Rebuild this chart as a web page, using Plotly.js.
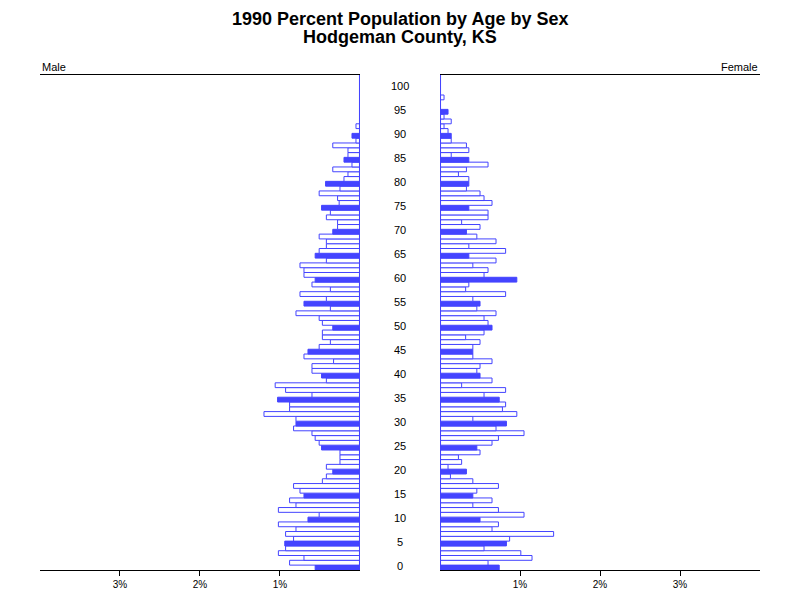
<!DOCTYPE html>
<html><head><meta charset="utf-8">
<script src="https://cdn.plot.ly/plotly-3.0.1.min.js"></script>
<style>body{margin:0;background:#fff}#chart{width:800px;height:600px}</style>
</head><body><div id="chart"></div>
<script>
const ages = Array.from({length:101}, (_, i) => i);
const male = [
0.56,0.88,0.70,1.02,0.93,0.94,0.83,0.93,0.80,1.02,
0.65,0.51,1.02,0.80,0.88,0.70,0.75,0.83,0.47,0.42,
0.34,0.42,0.25,0.25,0.25,0.48,0.51,0.56,0.60,0.83,
0.80,0.80,1.20,0.88,0.88,1.03,0.60,0.93,1.06,0.42,
0.48,0.60,0.60,0.33,0.70,0.65,0.51,0.37,0.47,0.47,
0.34,0.47,0.51,0.80,0.37,0.70,0.42,0.75,0.37,0.60,
0.56,0.70,0.70,0.75,0.42,0.56,0.51,0.42,0.42,0.51,
0.34,0.28,0.28,0.42,0.37,0.48,0.26,0.28,0.51,0.25,
0.43,0.20,0.15,0.34,0.10,0.20,0.15,0.15,0.34,0.05,
0.10,0,0.05,0,0,0,0,0,0,0,0];
const female = [
0.74,0.60,1.15,1.01,0.55,0.83,0.87,1.42,0.65,0.73,
0.50,1.05,0.73,0.41,0.65,0.41,0.46,0.73,0.41,0.13,
0.33,0.10,0.27,0.23,0.50,0.46,0.65,0.73,1.05,0.70,
0.83,0.41,0.96,0.78,0.82,0.74,0.55,0.82,0.27,0.65,
0.50,0.46,0.50,0.65,0.41,0.41,0.41,0.50,0.32,0.55,
0.65,0.60,0.55,0.70,0.46,0.50,0.41,0.82,0.32,0.36,
0.96,0.55,0.60,0.41,0.70,0.36,0.82,0.36,0.70,0.46,
0.33,0.50,0.27,0.60,0.60,0.36,0.65,0.55,0.50,0.33,
0.36,0.36,0.23,0.33,0.60,0.36,0.14,0.36,0.33,0.14,
0.14,0.10,0.05,0.14,0.05,0.10,0,0,0.05,0,0];
const ageLabels = [0,5,10,15,20,25,30,35,40,45,50,55,60,65,70,75,80,85,90,95,100];
const tickVals = [1,2,3];
const tickText = ['1%','2%','3%'];
const titleLines = ['1990 Percent Population by Age by Sex', 'Hodgeman County, KS'];

const BLUE = 'rgb(68,68,255)';
const fills = ages.map(a => a % 5 === 0 ? BLUE : 'white');
const FONT = 'Liberation Sans, Arial, sans-serif';

const traces = [
  {type:'bar', orientation:'h', x:male, y:ages, xaxis:'x', yaxis:'y', width:1,
   marker:{color:fills, line:{color:BLUE, width:1}}, hoverinfo:'x+y'},
  {type:'bar', orientation:'h', x:female, y:ages, xaxis:'x2', yaxis:'y2', width:1,
   marker:{color:fills, line:{color:BLUE, width:1}}, hoverinfo:'x+y'}
];

const axisCommon = {range:[0,4], tickvals:tickVals, ticktext:tickText, ticks:'outside', ticklen:5,
  tickcolor:'black', showline:true, linecolor:'black', linewidth:1, mirror:true,
  showgrid:false, zeroline:false, tickfont:{family:FONT, size:10, color:'black'}, fixedrange:true};
const yCommon = {range:[-0.52,102.67], showticklabels:false, ticks:'', showgrid:false, zeroline:false,
  showline:false, fixedrange:true};

const annotations = ageLabels.map(a => ({xref:'paper', yref:'y', x:0.5, y:a, yshift:2, text:String(a),
  showarrow:false, xanchor:'center', yanchor:'middle', font:{family:FONT, size:11, color:'black'}}));
annotations.push({xref:'paper', yref:'paper', x:0, y:1, xanchor:'left', yanchor:'bottom', yshift:0,
  text:'Male', showarrow:false, font:{family:FONT, size:11, color:'black'}});
annotations.push({xref:'paper', yref:'paper', x:1, y:1, xanchor:'right', yanchor:'bottom', yshift:0,
  text:'Female', showarrow:false, font:{family:FONT, size:11, color:'black'}});
annotations.push({xref:'paper', yref:'paper', x:0.5, y:1, xanchor:'center', yanchor:'middle', yshift:56,
  text:'<b>' + titleLines[0] + '</b>', showarrow:false, font:{family:FONT, size:18, color:'black'}});
annotations.push({xref:'paper', yref:'paper', x:0.5, y:1, xanchor:'center', yanchor:'middle', yshift:38,
  text:'<b>' + titleLines[1] + '</b>', showarrow:false, font:{family:FONT, size:18, color:'black'}});

const layout = {
  width:800, height:600, paper_bgcolor:'white', plot_bgcolor:'white',
  margin:{l:40, r:40, t:75, b:30},
  showlegend:false, bargap:0,
  xaxis:Object.assign({}, axisCommon, {domain:[0,0.4444], range:[4,0]}),
  xaxis2:Object.assign({}, axisCommon, {domain:[0.5556,1], range:[0,4]}),
  yaxis:Object.assign({}, yCommon, {anchor:'x'}),
  yaxis2:Object.assign({}, yCommon, {anchor:'x2'}),
  shapes:[
    {type:'line', xref:'x', yref:'paper', x0:0, x1:0, y0:0, y1:1, line:{color:BLUE, width:2}},
    {type:'line', xref:'x2', yref:'paper', x0:0, x1:0, y0:0, y1:1, line:{color:BLUE, width:2}}
  ],
  annotations:annotations
};
Plotly.newPlot('chart', traces, layout, {displayModeBar:false, staticPlot:true});
</script></body></html>
